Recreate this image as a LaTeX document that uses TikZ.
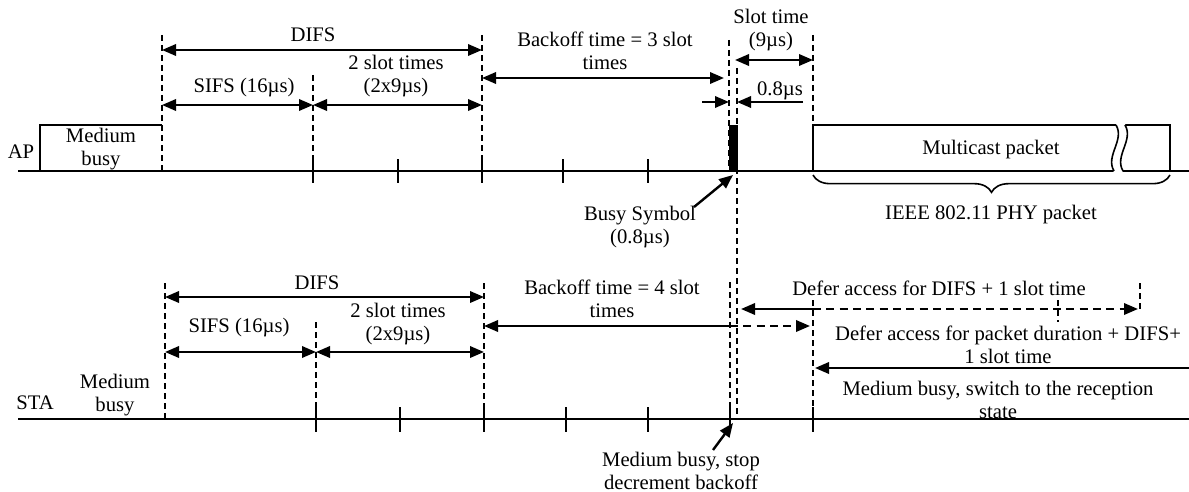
\documentclass[tikz,border=0pt]{standalone}
\usepackage{fontspec}
\setmainfont{Liberation Serif}
\usetikzlibrary{arrows.meta,decorations.pathreplacing}
\begin{document}
\begin{tikzpicture}[x=0.75pt,y=-0.75pt,
  tl/.style={line width=1.2pt},
  dl/.style={line width=1.2pt, dash pattern=on 4.5pt off 3pt},
  tip/.tip={Triangle[length=10.5pt,width=8.5pt]},
  arr/.style={line width=1.8pt, -tip},
  larr/.style={line width=1.8pt, tip-},
  dar/.style={line width=1.8pt, tip-tip},
  dashseg/.style={dash pattern=on 6pt off 4pt},
  txt/.style={font=\fontsize{15.5}{17.5}\selectfont, align=center, inner sep=0pt},
]
\useasboundingbox (0,0) rectangle (1189,492);

% ================= AP =================
\coordinate (apL) at (18,171); \coordinate (apR) at (1189,171);
\draw[tl] (apL) -- (apR);
% medium busy box
\draw[tl] (40,171) -- (40,125) -- (162,125);
\node[txt] (apmb) at (101,149) {Medium\\busy};
\node[txt] (ap) at (21,152) {AP};
% dashed verticals
\draw[dl] (162,35) -- (162,171);
\draw[dl] (313,75) -- (313,171);
\draw[dl] (482,35) -- (482,171);
\draw[dl] (729,40) -- (729,171);
\draw[dl] (737,68) -- (737,419);
\draw[dl] (813,35) -- (813,125);
% ticks
\foreach \x in {313,398,482,563,648} \draw[tl] (\x,159) -- (\x,183);
% arrows
\coordinate (a1) at (162,50); \coordinate (a2) at (482,50);
\draw[dar] (a1) -- (a2);
\node[txt] (apdifs) at (313,35) {DIFS};
\coordinate (b1) at (162,105); \coordinate (b2) at (313,105); \coordinate (b3) at (482,105);
\draw[dar] (b1) -- (b2);
\draw[dar] (b2) -- (b3);
\node[txt] (apsifs) at (244,88) {SIFS (16µs)};
\node[txt] (ap2s) at (396,76) {2 slot times\\(2x9µs)};
\coordinate (c1) at (482,78); \coordinate (c2) at (724,78);
\draw[dar] (c1) -- (c2);
\node[txt] (apbo) at (605,51) {Backoff time = 3 slot\\times};
\coordinate (d1) at (735,60); \coordinate (d2) at (813,60);
\draw[dar] (d1) -- (d2);
\node[txt] (apslot) at (771,30) {Slot time\\(9µs)};
\coordinate (e1) at (702,102); \coordinate (e2) at (729,102);
\coordinate (e3) at (803,102); \coordinate (e4) at (737,102);
\draw[arr] (e1) -- (e2);
\draw[arr] (e3) -- (e4);
\node[txt] (ap08) at (780,91) {0.8µs};
% busy symbol label
\node[txt] (busy) at (640,227) {Busy Symbol\\(0.8µs)};
\coordinate (bs1) at (694,207); \coordinate (bs2) at (733,175);
\draw[arr] (bs1) -- (bs2);
% multicast packet
\draw[tl] (1117,125) -- (813,125) -- (813,171);
\draw[tl] (1125,125) -- (1170,125) -- (1170,171);
\fill[white] (1116,124) .. controls (1125,140) and (1105,156) .. (1114,172.5) -- (1123,172.5) .. controls (1114,156) and (1134,140) .. (1125,124) -- cycle;
\draw[tl] (1116,125) .. controls (1125,140) and (1105,156) .. (1114,171);
\draw[tl] (1125,125) .. controls (1134,140) and (1114,156) .. (1123,171);
\node[txt] (mc) at (991,150) {Multicast packet};
\coordinate (br1) at (813,175); \coordinate (br2) at (1170,175);
\draw[tl, decorate, decoration={brace, mirror, amplitude=13pt, aspect=0.5}] (br1) -- (br2);
\node[txt] (phy) at (991,215) {IEEE 802.11 PHY packet};

% ================= STA =================
\coordinate (stL) at (18,419); \coordinate (stR) at (1189,419);
\draw[tl] (stL) -- (stR);
\node[txt] (sta) at (35,403) {STA};
\node[txt] (stmb) at (115,395) {Medium\\busy};
\draw[dl] (165,283) -- (165,419);
\draw[dl] (316,322) -- (316,419);
\draw[dl] (484,283) -- (484,419);
\draw[dl] (730,282) -- (730,419);
\draw[dl] (813,300) -- (813,419);
\draw[dl] (1058,300) -- (1058,322);
\draw[dl] (1140,283) -- (1140,310);
\foreach \x in {316,400,484,566,648,730,813} \draw[tl] (\x,407) -- (\x,432);
\coordinate (f1) at (165,297); \coordinate (f2) at (484,297);
\draw[dar] (f1) -- (f2);
\node[txt] (stdifs) at (317,283) {DIFS};
\coordinate (g1) at (165,352); \coordinate (g2) at (316,352); \coordinate (g3) at (484,352);
\draw[dar] (g1) -- (g2);
\draw[dar] (g2) -- (g3);
\node[txt] (stsifs) at (239,328) {SIFS (16µs)};
\node[txt] (st2s) at (398,324) {2 slot times\\(2x9µs)};
\coordinate (h1) at (484,326); \coordinate (h2) at (730,326); \coordinate (h3) at (810,326);
\draw[larr] (h1) -- (h2);
\draw[arr, dashseg] (h2) -- (h3);
\node[txt] (stbo) at (612,299) {Backoff time = 4 slot\\times};
\coordinate (i1) at (741,309); \coordinate (i2) at (813,309); \coordinate (i3) at (1138,309);
\draw[larr] (i1) -- (i2);
\draw[arr, dashseg] (i2) -- (i3);
\node[txt] (defer1) at (939,288) {Defer access for DIFS + 1 slot time};
\node[txt] (defer2) at (1008,345) {Defer access for packet duration + DIFS+\\1 slot time};
\coordinate (j1) at (1189,368); \coordinate (j2) at (815,368);
\draw[arr] (j1) -- (j2);
\node[txt] (recv) at (998,400) {Medium busy, switch to the reception\\state};
\node[txt] (stop) at (681,471) {Medium busy, stop\\decrement backoff};
\coordinate (k1) at (713,450); \coordinate (k2) at (733,423);
\draw[arr] (k1) -- (k2);

% busy symbol bar (on top)
\fill[black] (729,125) rectangle (738,171);
\end{tikzpicture}
\end{document}
